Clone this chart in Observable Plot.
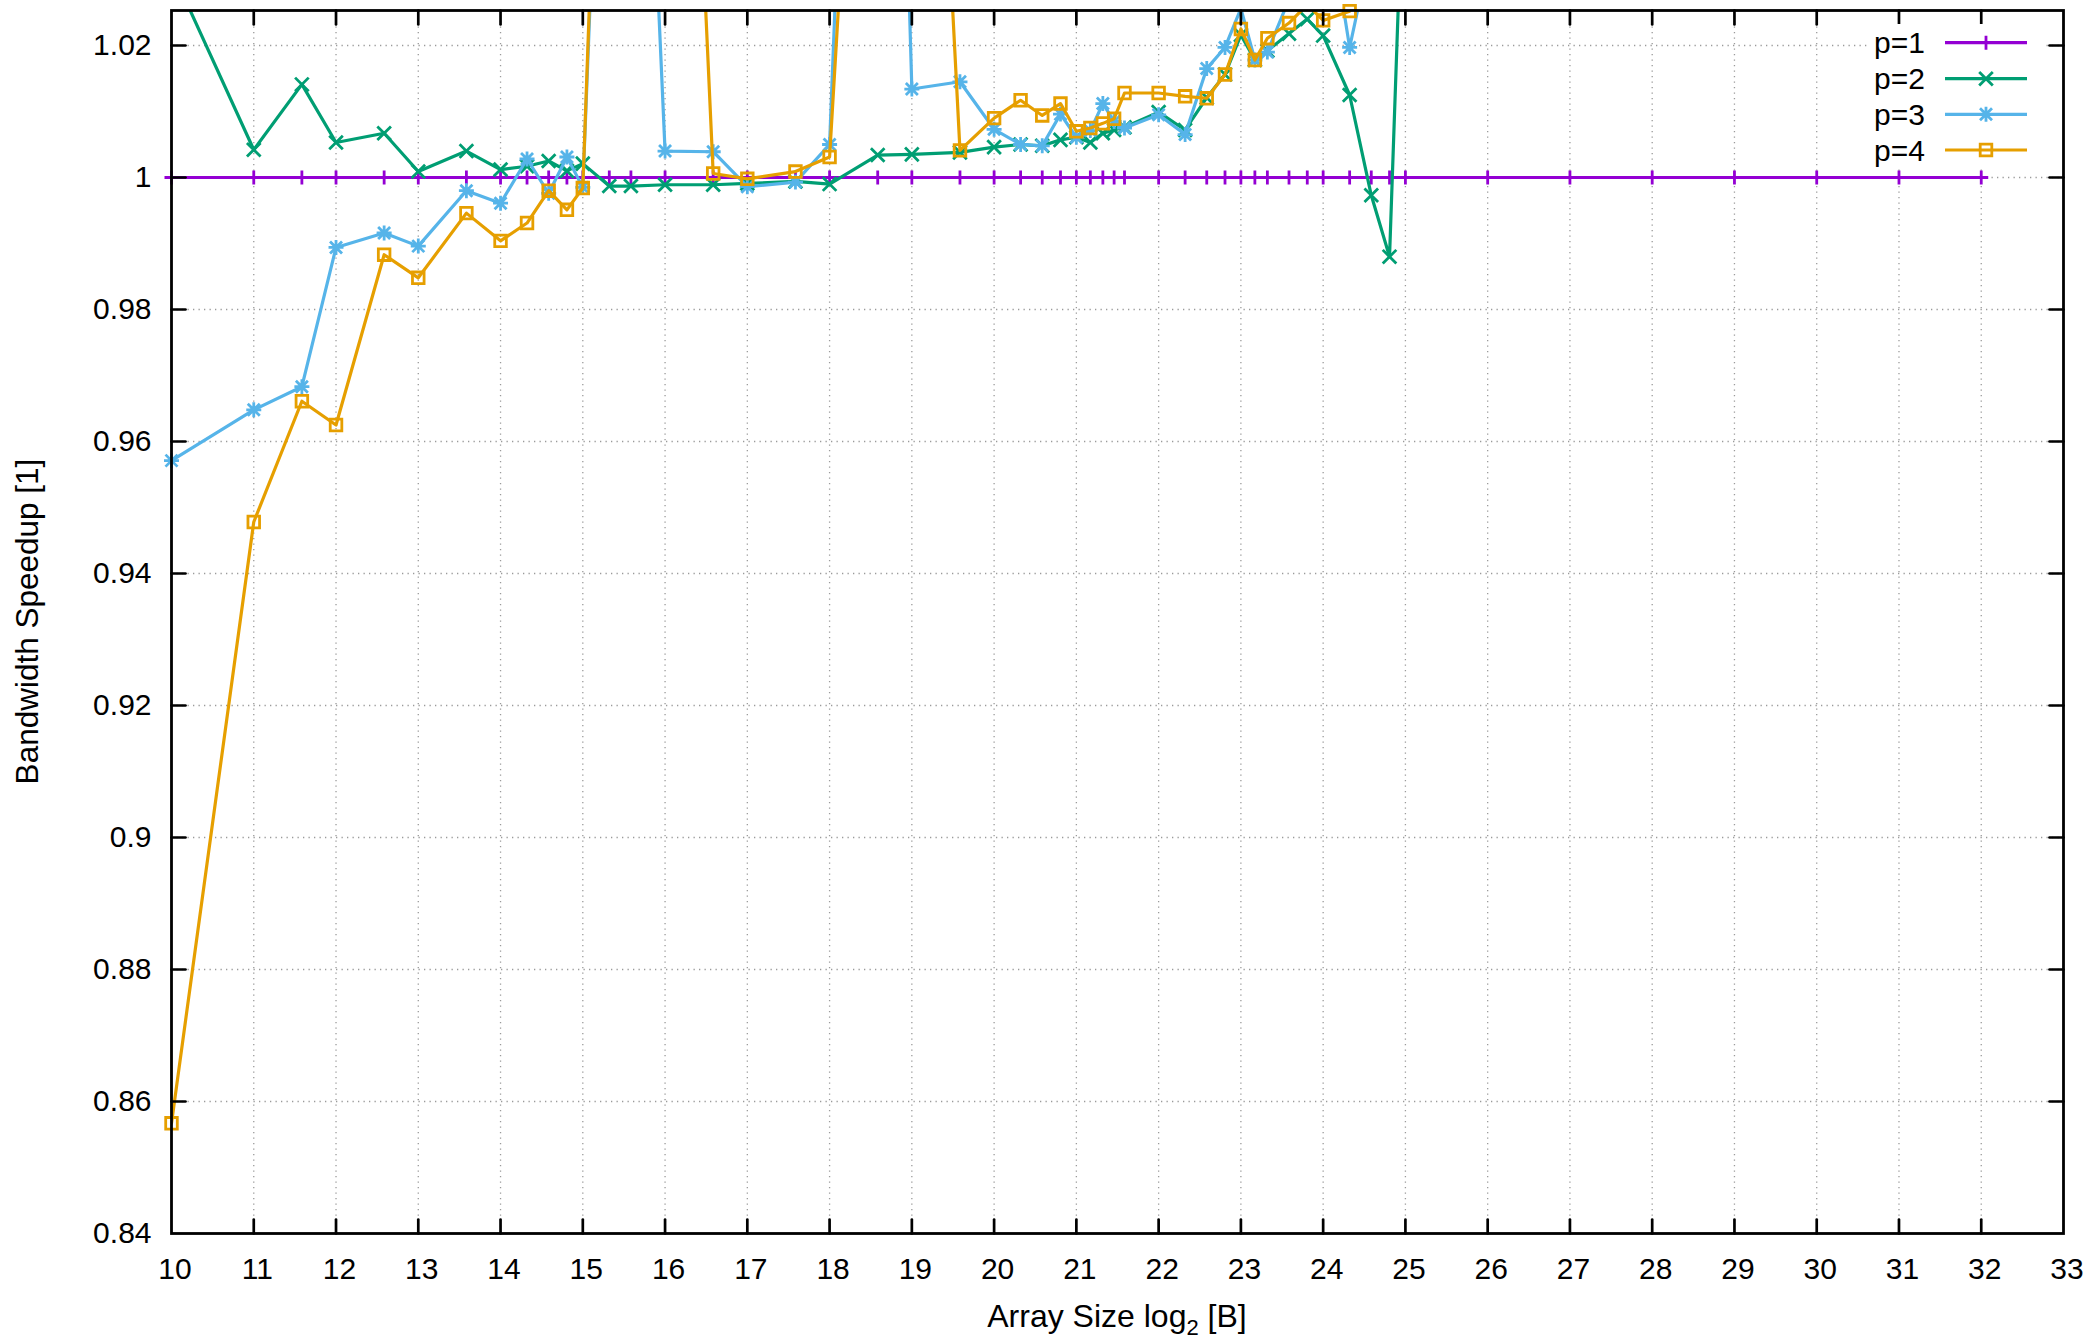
<!DOCTYPE html>
<html><head><meta charset="utf-8">
<script src="https://cdn.jsdelivr.net/npm/d3@7"></script>
<script src="https://cdn.jsdelivr.net/npm/@observablehq/plot@0.6"></script>
<style>
html,body{margin:0;padding:0;background:#fff;}
#wrap{position:relative;width:2096px;height:1342px;overflow:hidden;background:#fff;}
#overlay{position:absolute;left:0;top:0;pointer-events:none;}
</style></head>
<body><div id="wrap"></div>
<script>
// ---------------- data ----------------
const xTicks = [10,11,12,13,14,15,16,17,18,19,20,21,22,23,24,25,26,27,28,29,30,31,32,33];
const xTickLabels = ["10","11","12","13","14","15","16","17","18","19","20","21","22","23","24","25","26","27","28","29","30","31","32","33"];
const yTicks = [0.84,0.86,0.88,0.90,0.92,0.94,0.96,0.98,1.00,1.02];
const yTickLabels = ["0.84","0.86","0.88","0.9","0.92","0.94","0.96","0.98","1","1.02"];
const seriesNames = ["p=1","p=2","p=3","p=4"];

const xP1 = [10,11,11.585,12,12.585,13,13.585,14,14.322,14.585,14.807,15,15.322,15.585,16,16.585,17,17.585,18,18.585,19,19.585,20,20.322,20.585,20.807,21,21.17,21.322,21.459,21.585,22,22.322,22.585,22.807,23,23.17,23.322,23.585,23.807,24,24.322,24.585,24.807,25,26,27,28,29,30,31,32];
const yP1 = [1,1,1,1,1,1,1,1,1,1,1,1,1,1,1,1,1,1,1,1,1,1,1,1,1,1,1,1,1,1,1,1,1,1,1,1,1,1,1,1,1,1,1,1,1,1,1,1,1,1,1,1];

const xP2 = [10,11,11.585,12,12.585,13,13.585,14,14.322,14.585,14.807,15,15.322,15.585,16,16.585,17,17.585,18,18.585,19,19.585,20,20.322,20.585,20.807,21,21.17,21.322,21.459,21.585,22,22.322,22.585,22.807,23,23.17,23.322,23.585,23.807,24,24.322,24.585,24.807,25];
const yP2 = [1.0315,1.0042,1.0141,1.0053,1.0067,1.0009,1.0040,1.0012,1.0017,1.0025,1.0010,1.0021,0.9987,0.9987,0.9989,0.9989,0.9991,0.9994,0.9990,1.0034,1.0035,1.0038,1.0046,1.0050,1.0048,1.0057,1.0061,1.0053,1.0067,1.0072,1.0076,1.0099,1.0072,1.0121,1.0156,1.0216,1.0178,1.0192,1.0218,1.0240,1.0215,1.0125,0.9973,0.9880,1.057];

const xP3 = [10,11,11.585,12,12.585,13,13.585,14,14.322,14.585,14.807,15,15.322,15.585,16,16.585,17,17.585,18,18.585,19,19.585,20,20.322,20.585,20.807,21,21.17,21.322,21.459,21.585,22,22.322,22.585,22.807,23,23.17,23.322,23.585,23.807,24,24.322,24.585];
const yP3 = [0.9571,0.9648,0.9683,0.9894,0.9916,0.9896,0.9980,0.9961,1.0028,0.9976,1.0031,0.9985,1.10,1.12,1.0040,1.0039,0.9986,0.9993,1.0050,1.19,1.0134,1.0145,1.0073,1.0050,1.0048,1.0096,1.0061,1.0071,1.0112,1.0085,1.0075,1.0095,1.0065,1.0165,1.0197,1.0256,1.0178,1.0190,1.027,1.032,1.045,1.0197,1.035];

const xP4 = [10,11,11.585,12,12.585,13,13.585,14,14.322,14.585,14.807,15,15.322,15.585,16,16.585,17,17.585,18,18.585,19,19.585,20,20.322,20.585,20.807,21,21.17,21.322,21.459,21.585,22,22.322,22.585,22.807,23,23.17,23.322,23.585,23.807,24,24.322];
const yP4 = [0.8567,0.9478,0.9661,0.9625,0.9883,0.9848,0.9946,0.9904,0.9931,0.9980,0.9951,0.9984,1.11,1.13,1.16,1.0006,0.9998,1.0009,1.0031,1.126,1.145,1.0041,1.0090,1.0117,1.0094,1.0112,1.0070,1.0075,1.0082,1.0089,1.0128,1.0128,1.0123,1.0120,1.0156,1.0225,1.0178,1.0211,1.0234,1.0262,1.0238,1.0252];

// ---------------- styling / layout ----------------
const W = 2096, H = 1342;
const mL = 171, mR = 33, mT = 10, mB = 109;
const xDomain = [10, 33], yDomain = [0.84, 1.0253];
const colors = ["#9400d3", "#009e73", "#56b4e9", "#e69f00"];
const FONT = "'Liberation Sans', Arial, Helvetica, sans-serif";

const half = s => Math.sqrt(s / Math.PI);
const symPlus = {draw(c, s) { const r = half(s); c.moveTo(-r, 0); c.lineTo(r, 0); c.moveTo(0, -r); c.lineTo(0, r); }};
const symTimes = {draw(c, s) { const r = half(s); c.moveTo(-r, -r); c.lineTo(r, r); c.moveTo(-r, r); c.lineTo(r, -r); }};
const symStar = {draw(c, s) { const r = half(s); const q = r * 0.8;
  c.moveTo(-r, 0); c.lineTo(r, 0); c.moveTo(0, -r); c.lineTo(0, r);
  c.moveTo(-q, -q); c.lineTo(q, q); c.moveTo(-q, q); c.lineTo(q, -q); }};
const symSquare = {draw(c, s) { const r = half(s); c.moveTo(-r, -r); c.lineTo(r, -r); c.lineTo(r, r); c.lineTo(-r, r); c.closePath(); }};
const symbols = [symPlus, symTimes, symStar, symSquare];
const symR = [7, 6.8, 7.5, 5.8];

const xs = [xP1, xP2, xP3, xP4], ys = [yP1, yP2, yP3, yP4];
const seriesRows = xs.map((xa, k) => xa.map((x, i) => ({s: seriesNames[k], x, y: ys[k][i]})));

const tickShape = {draw(context, l) { context.moveTo(0, 0); context.lineTo(0, -l); }};
const innerX = xTicks.filter(d => d > xDomain[0] && d < xDomain[1]);
const innerY = yTicks.filter(d => d > yDomain[0] && d < yDomain[1]);
const inRange = d => d.y >= yDomain[0] && d.y <= yDomain[1];

const marks = [
  Plot.ruleX(innerX, {x: d => d, stroke: "#9a9a9a", strokeWidth: 1.3, strokeDasharray: "1.3,4.2"}),
  Plot.ruleY(innerY, {y: d => d, stroke: "#9a9a9a", strokeWidth: 1.3, strokeDasharray: "1.3,4.2"}),
  Plot.axisX({ticks: xTicks, tickSize: 0, tickPadding: 24, dx: 3.5, fontSize: 30, tickFormat: (d) => xTickLabels[xTicks.indexOf(d)], label: null}),
  Plot.axisY({ticks: yTicks, tickSize: 0, tickPadding: 20, fontSize: 30, tickFormat: (d) => yTickLabels[yTicks.indexOf(d)], label: null})
];
seriesRows.forEach((rows, k) => {
  marks.push(Plot.line(rows, {x: "x", y: "y", stroke: colors[k], strokeWidth: 3.2, clip: true}));
  marks.push(Plot.dot(rows, {x: "x", y: "y", filter: inRange, symbol: symbols[k], r: symR[k], fill: "none", stroke: colors[k], strokeWidth: 2.8}));
});
marks.push(
  Plot.vector(innerX, {x: d => d, y: yDomain[0], length: 14, rotate: 0, anchor: "start", shape: tickShape, stroke: "#000", strokeWidth: 2.7}),
  Plot.vector(innerX, {x: d => d, y: yDomain[1], length: 14, rotate: 180, anchor: "start", shape: tickShape, stroke: "#000", strokeWidth: 2.7}),
  Plot.vector(innerY, {x: xDomain[0], y: d => d, length: 14, rotate: 90, anchor: "start", shape: tickShape, stroke: "#000", strokeWidth: 2.7}),
  Plot.vector(innerY, {x: xDomain[1], y: d => d, length: 14, rotate: -90, anchor: "start", shape: tickShape, stroke: "#000", strokeWidth: 2.7}),
  Plot.frame({stroke: "#000", strokeWidth: 2.8})
);

const chart = Plot.plot({
  width: W, height: H,
  marginLeft: mL, marginRight: mR, marginTop: mT, marginBottom: mB,
  style: {fontFamily: FONT, fontSize: "30px", background: "#fff", color: "#000", overflow: "visible"},
  x: {domain: xDomain, label: null},
  y: {domain: yDomain, label: null},
  marks
});
document.getElementById("wrap").appendChild(chart);

// ---------------- overlay: axis titles and key ----------------
const ov = d3.select("#wrap").append("svg").attr("id", "overlay")
  .attr("width", W).attr("height", H).attr("font-family", FONT);

const xt = ov.append("text").attr("x", (mL + W - mR) / 2).attr("y", 1326.5)
  .attr("text-anchor", "middle").attr("font-size", 32).attr("fill", "#000");
xt.append("tspan").text("Array Size log");
xt.append("tspan").attr("font-size", 22).attr("dy", 8).text("2");
xt.append("tspan").attr("dy", -8).text(" [B]");

ov.append("text").attr("transform", `translate(38,${(mT + H - mB) / 2}) rotate(-90)`)
  .attr("text-anchor", "middle").attr("font-size", 31.5).attr("fill", "#000")
  .text("Bandwidth Speedup [1]");

const key = ov.append("g");
key.append("rect").attr("x", 1868).attr("y", 24).attr("width", 178).attr("height", 142).attr("fill", "#fff");
const rowY = [42.7, 78.7, 114.3, 150];
seriesNames.forEach((name, k) => {
  const y = rowY[k];
  key.append("text").attr("x", 1925).attr("y", y + 10.7).attr("text-anchor", "end")
    .attr("font-size", 30).attr("fill", "#000").text(name);
  key.append("line").attr("x1", 1945).attr("x2", 2027).attr("y1", y).attr("y2", y)
    .attr("stroke", colors[k]).attr("stroke-width", 3.2);
  key.append("path").attr("transform", `translate(1986,${y})`)
    .attr("d", d3.symbol(symbols[k], Math.PI * symR[k] * symR[k])())
    .attr("fill", "none").attr("stroke", colors[k]).attr("stroke-width", 2.8);
});
</script>
</body></html>
